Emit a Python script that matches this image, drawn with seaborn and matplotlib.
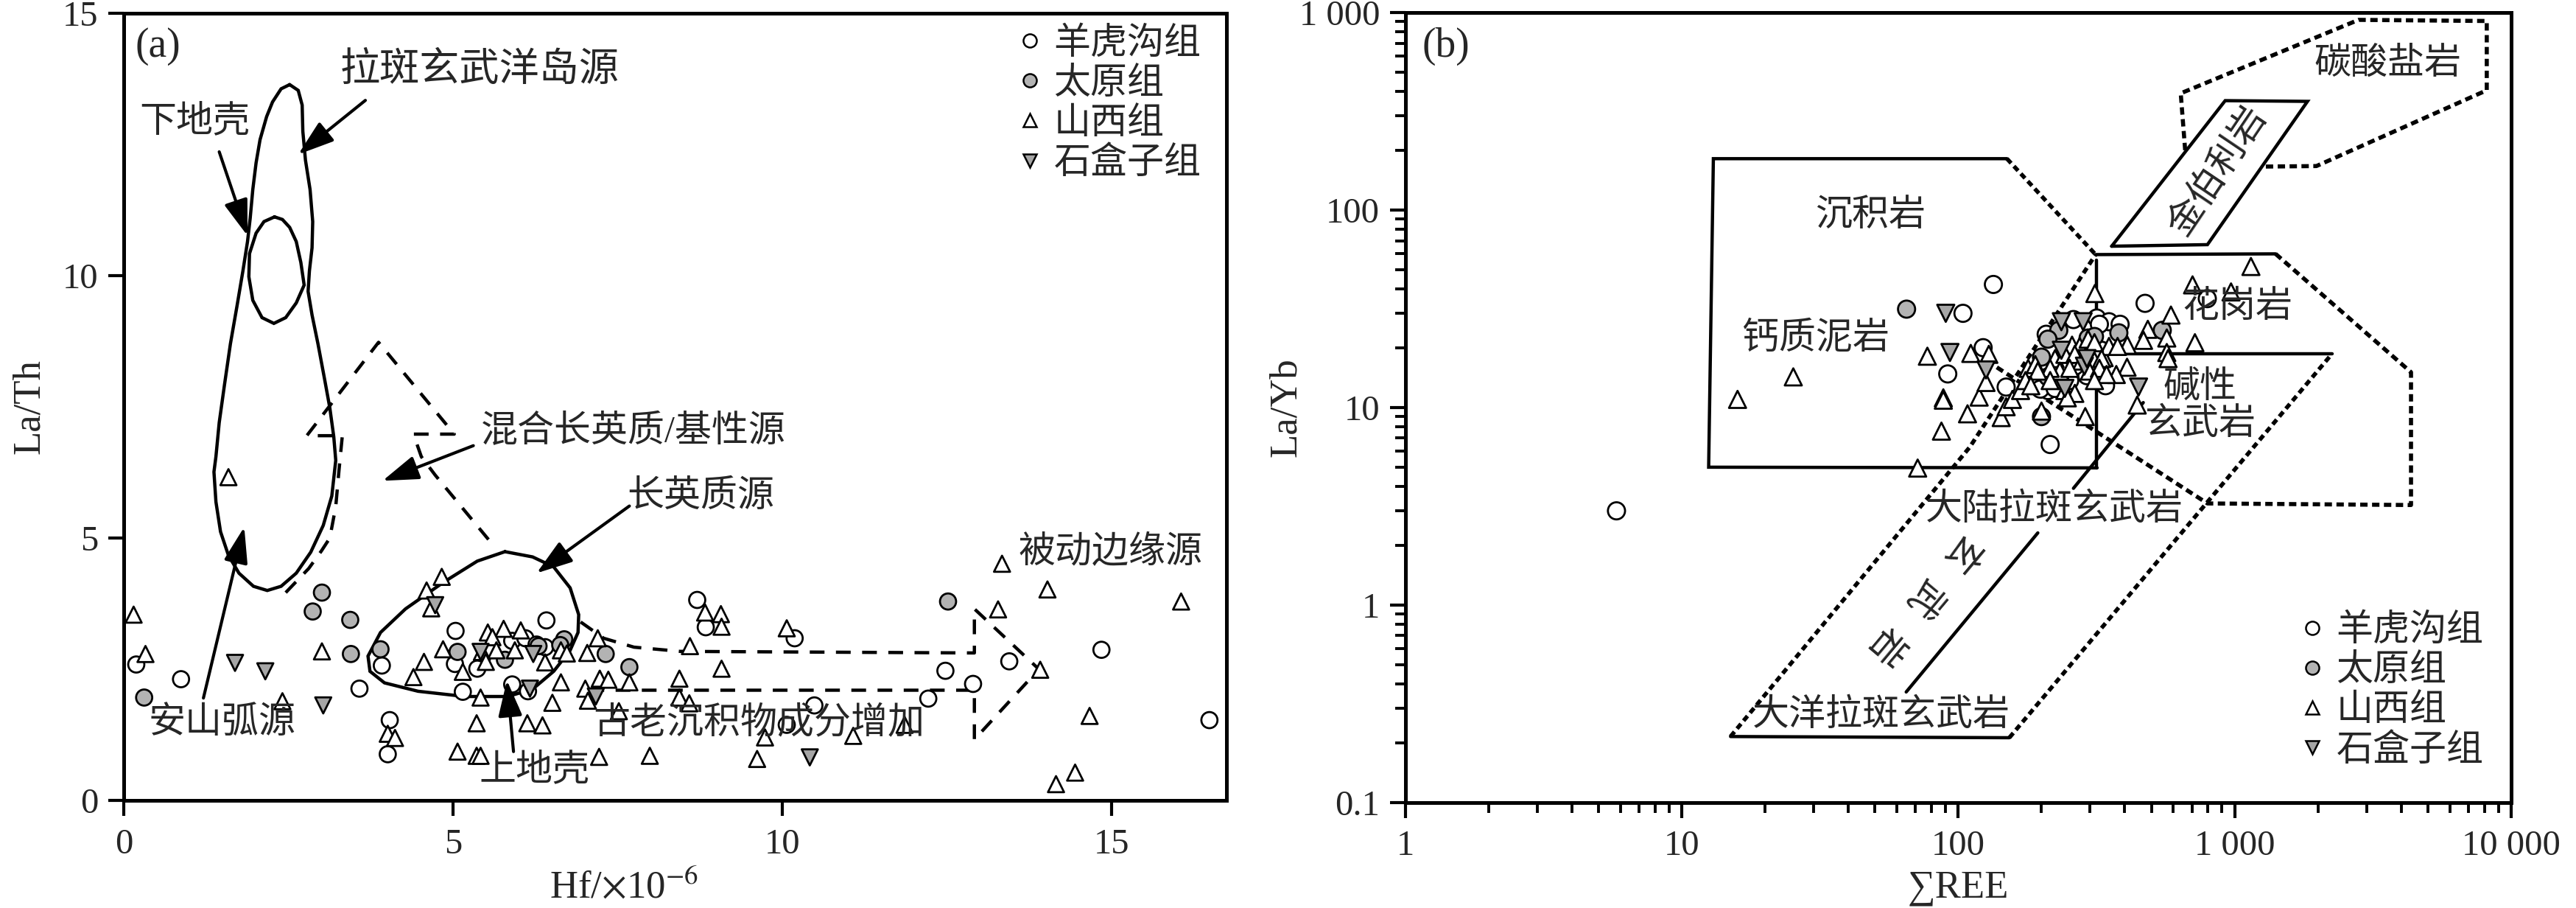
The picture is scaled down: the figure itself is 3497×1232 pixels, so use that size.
import pandas as pd
import seaborn as sns
import matplotlib
matplotlib.use('Agg')
import matplotlib.pyplot as plt
from matplotlib.lines import Line2D
from matplotlib.ticker import FixedLocator, FixedFormatter, NullFormatter, LogLocator

sns.set_style('ticks')
plt.rcParams['font.family'] = ['Liberation Serif', 'Noto Sans CJK SC', 'DejaVu Sans']
plt.rcParams['mathtext.fontset'] = 'stix'
plt.rcParams['axes.unicode_minus'] = False

groups = ['羊虎沟组', '太原组', '山西组', '石盒子组']
markers = {'羊虎沟组': 'o', '太原组': 'o', '山西组': '^', '石盒子组': 'v'}
fills = {'羊虎沟组': 'white', '太原组': '#b3b3b3', '山西组': 'white', '石盒子组': '#a6a6a6'}

# ---------------- (a) La/Th - Hf data
a_yhg_x = [0.19, 0.87, 3.92, 3.58, 4.04, 4.01, 5.04, 5.03, 5.15, 5.37, 5.90, 6.10, 6.27, 6.40,
           6.42, 5.90, 6.14, 8.71, 8.84, 10.19, 12.48, 12.22, 12.90, 13.45, 14.85, 16.49, 10.49, 10.07]
a_yhg_y = [2.59, 2.31, 2.57, 2.13, 1.53, 0.88, 3.23, 2.60, 2.07, 2.51, 3.04, 3.09, 2.97, 2.92,
           3.43, 2.21, 2.08, 3.82, 3.30, 3.09, 2.47, 1.94, 2.22, 2.65, 2.87, 1.53, 1.81, 1.44]
a_ty_x = [0.31, 3.01, 2.87, 3.44, 3.45, 3.90, 5.07, 5.79, 6.30, 6.69, 6.63, 7.32, 7.68, 12.52]
a_ty_y = [1.96, 3.96, 3.60, 3.44, 2.79, 2.88, 2.83, 2.68, 2.94, 3.07, 2.96, 2.79, 2.54, 3.79]
a_sx_x = [1.59, 0.15, 0.33, 3.01, 2.41, 4.83, 4.60, 4.67, 4.85, 4.56, 4.40, 5.53, 5.77, 5.60,
          6.03, 5.44, 5.66, 5.94, 6.40, 6.64, 6.73, 5.15, 5.50, 5.42, 5.87, 5.36, 6.13, 6.36,
          6.51, 6.64, 7.04, 7.20, 7.23, 7.36, 7.68, 7.01, 7.05, 7.52, 4.01, 4.12, 5.07, 5.36,
          5.42, 7.22, 7.99, 5.87, 13.34, 14.03, 16.06, 13.28, 13.92, 14.67, 14.16, 14.45, 8.83,
          9.07, 9.08, 8.60, 9.08, 8.44, 8.44, 8.59, 10.07, 9.74, 9.62, 11.08, 11.86]
a_sx_y = [6.16, 3.54, 2.79, 2.84, 1.89, 4.26, 4.00, 3.66, 2.88, 2.64, 2.35, 3.20, 3.27, 3.11,
          3.24, 2.83, 2.86, 2.86, 2.63, 2.86, 2.80, 2.45, 2.64, 1.96, 1.90, 1.47, 1.47, 1.43,
          1.86, 2.25, 2.81, 3.09, 2.32, 2.30, 2.25, 2.13, 1.90, 1.70, 1.27, 1.19, 0.93, 0.85,
          0.85, 0.83, 0.85, 1.87, 4.51, 4.02, 3.79, 3.64, 2.49, 1.61, 0.31, 0.53, 3.58,
          3.55, 3.31, 2.94, 2.51, 2.32, 1.96, 1.85, 3.28, 1.20, 0.79, 1.23, 1.44]
a_shz_x = [1.69, 2.15, 3.03, 4.73, 5.42, 6.22, 6.17, 7.17, 10.42]
a_shz_y = [2.62, 2.46, 1.81, 3.72, 2.83, 2.79, 2.13, 1.98, 0.82]

# field outlines in (a), data coordinates
arc_field = [(2.52, 13.64), (2.39, 13.56), (2.26, 13.31), (2.17, 13.03), (2.07, 12.59), (2.01, 12.15),
             (1.96, 11.64), (1.92, 11.09), (1.88, 10.65), (1.81, 10.09), (1.72, 9.42), (1.62, 8.70),
             (1.53, 7.92), (1.45, 7.20), (1.40, 6.55), (1.37, 6.26), (1.40, 5.69), (1.47, 5.12),
             (1.59, 4.67), (1.75, 4.33), (1.97, 4.08), (2.18, 4.00), (2.39, 4.08), (2.62, 4.33),
             (2.84, 4.73), (3.03, 5.24), (3.16, 5.80), (3.22, 6.48), (3.19, 6.93), (3.13, 7.48),
             (3.05, 8.03), (2.95, 8.70), (2.86, 9.25), (2.80, 9.70), (2.82, 10.09), (2.86, 10.53),
             (2.87, 11.03), (2.83, 11.64), (2.76, 12.20), (2.72, 12.75), (2.71, 13.25), (2.65, 13.53),
             (2.52, 13.64)]
oit_loop = [(2.29, 11.12), (2.13, 11.03), (2.01, 10.81), (1.91, 10.42), (1.90, 9.98), (1.96, 9.53),
            (2.10, 9.20), (2.28, 9.09), (2.46, 9.20), (2.62, 9.48), (2.74, 9.82), (2.69, 10.25),
            (2.62, 10.65), (2.52, 10.92), (2.41, 11.07), (2.29, 11.12)]
felsic_field = [(5.79, 4.74), (6.21, 4.64), (6.53, 4.45), (6.78, 4.05), (6.91, 3.54), (6.90, 3.20),
                (6.78, 2.86), (6.53, 2.46), (6.21, 2.12), (5.83, 1.98), (5.18, 1.98), (4.47, 2.08),
                (3.96, 2.24), (3.74, 2.46), (3.71, 2.75), (3.90, 3.20), (4.28, 3.65), (4.86, 4.16),
                (5.37, 4.56), (5.79, 4.74)]
mixed_field = [(2.46, 3.96), (2.81, 4.42), (3.00, 4.75), (3.13, 5.00), (3.22, 5.60), (3.27, 6.30),
               (3.32, 6.95), (2.78, 6.95), (3.87, 8.73), (5.02, 6.98), (4.40, 6.98), (4.52, 6.55),
               (4.73, 6.20), (5.62, 4.85)]
old_sed_arrow = [(6.94, 3.40), (7.29, 3.09), (7.75, 2.92), (8.45, 2.84), (12.92, 2.81), (12.92, 3.65),
                 (13.90, 2.50), (12.92, 1.16), (12.92, 2.10), (7.23, 2.10)]

# ---------------- (b) La/Yb - REE data
b_yhg_x = [5.8, 134, 104, 123, 91.6, 149, 474, 261, 317, 351, 385, 324, 208, 341, 215, 211, 198,
           224, 292, 264, 243, 253, 233, 304, 796, 330]
b_yhg_y = [3.0, 42, 30, 20.1, 14.8, 12.7, 33.7, 27.9, 28.4, 27.2, 26.4, 26.4, 23.5, 12.9, 6.5, 12.2,
           12.4, 12.5, 14.5, 16.2, 15.3, 13.7, 13.7, 22.5, 35.6, 19.5]
b_ty_x = [65, 231, 211, 200, 211, 200, 381, 547, 295, 311, 286]
b_ty_y = [31.5, 24.6, 22.2, 18.0, 14.3, 9.0, 23.9, 24.6, 22.5, 22.9, 17.7]
b_sx_x = [15.9, 25.3, 71.3, 86.9, 77.3, 111, 129, 119, 126, 88.3, 88.3, 108, 143, 149, 157, 168,
          179, 190, 312, 704, 588, 485, 468, 568, 718, 568, 574, 408, 373, 444, 288, 258, 275,
          337, 351, 409, 377, 295, 311, 224, 243, 264, 280, 311, 330, 298, 324, 344, 233, 253,
          215, 194, 175, 183, 243, 264, 248, 215, 311, 1145, 970, 200]
b_sx_y = [11.0, 14.3, 4.94, 7.6, 18.2, 18.8, 18.6, 11.3, 13.4, 11.2, 10.9, 9.3, 8.9, 10.1, 11.0,
          12.2, 15.8, 16.5, 37.8, 41.8, 29.4, 24.9, 21.9, 22.5, 21.3, 19.0, 17.7, 16.0, 14.7, 10.3,
          9.0, 20.7, 20.4, 17.9, 20.4, 20.7, 20.4, 22.2, 21.3, 17.7, 18.6, 18.6, 17.2, 17.2, 17.7,
          15.3, 15.8, 14.7, 15.3, 15.8, 15.8, 15.3, 13.7, 12.9, 12.2, 11.8, 11.2, 13.7, 13.7,
          51.8, 38.5, 9.6]
b_shz_x = [90.1, 93.3, 126, 236, 283, 236, 286, 243, 449, 292]
b_shz_y = [30.0, 19.0, 15.5, 27.2, 27.2, 19.5, 16.2, 12.5, 12.7, 17.7]

# field outlines in (b), data coordinates
sed_box = [(150, 182), (13.0, 182), (12.5, 4.99), (318, 4.95)]
sed_dash = [(150, 182), (314, 59.5)]
granite_top = [(314, 59.5), (1406, 60)]
granite_dash = [(1406, 60), (4345, 15.1), (4345, 3.21), (797, 3.27), (134, 16.4)]
split_line = [(316, 55.6), (316, 4.95)]
alkali_top = [(221, 18.7), (2249, 18.7)]
basalt_left = [(15, 0.216), (110, 6.3), (314, 59.5)]
basalt_right = [(153, 0.213), (2249, 18.7)]
basalt_bottom = [(15, 0.216), (153, 0.213)]
thol_lower = [(64.8, 0.363), (194, 2.32)]
thol_upper = [(261, 3.9), (467, 10.6)]
kimberlite = [(359, 65.6), (924, 358), (1834, 355), (797, 66.8), (359, 65.6)]
carbonate = [(662, 201), (638, 390), (2806, 918), (8166, 906), (8166, 404), (1976, 167), (1288, 166)]


def frame(gx, gy):
    parts = []
    for g, xs, ys in zip(groups, gx, gy):
        parts.append(pd.DataFrame({'x': xs, 'y': ys, '组': g}))
    return pd.concat(parts, ignore_index=True)


df_a = frame([a_yhg_x, a_ty_x, a_sx_x, a_shz_x], [a_yhg_y, a_ty_y, a_sx_y, a_shz_y])
df_b = frame([b_yhg_x, b_ty_x, b_sx_x, b_shz_x], [b_yhg_y, b_ty_y, b_sx_y, b_shz_y])

fig = plt.figure(figsize=(17.485, 6.16), dpi=200)
ax_a = fig.add_axes([0.04804, 0.1185, 0.4281, 0.8669])
ax_b = fig.add_axes([0.5456, 0.1161, 0.4292, 0.8701])

LW = 1.6
FS = 18
LONG_DASH = (4.5, 3.5)
SHORT_DASH = (1.5, 1.0)


def outline(ax, pts, dashed=None, lw=LW):
    xs = [p[0] for p in pts]
    ys = [p[1] for p in pts]
    line, = ax.plot(xs, ys, color='black', lw=lw, zorder=2, solid_joinstyle='miter')
    if dashed is not None:
        line.set_dashes(dashed)


def arrow(ax, tail, tip):
    ax.annotate('', xy=tip, xytext=tail,
                arrowprops=dict(arrowstyle='-|>,head_length=0.75,head_width=0.25',
                                color='black', lw=1.5, shrinkA=0, shrinkB=0, mutation_scale=20),
                zorder=4)


# ---------------- panel (a)
outline(ax_a, arc_field)
outline(ax_a, oit_loop)
outline(ax_a, felsic_field)
outline(ax_a, mixed_field, dashed=LONG_DASH)
outline(ax_a, old_sed_arrow, dashed=LONG_DASH)

sns.scatterplot(data=df_a, x='x', y='y', hue='组', style='组', hue_order=groups, style_order=groups,
                palette=fills, markers=markers, s=62, edgecolor='black', linewidth=1.0,
                legend=False, ax=ax_a, zorder=3)

ax_a.text(0.0105, 0.958, '(a)', transform=ax_a.transAxes, fontsize=20, va='center')
ax_a.text(3.29, 13.9, '拉斑玄武洋岛源', fontsize=19.5, va='center')
ax_a.text(0.24, 12.92, '下地壳', fontsize=FS, va='center')
ax_a.text(5.43, 7.02, '混合长英质/基性源', fontsize=FS, va='center')
ax_a.text(7.65, 5.78, '长英质源', fontsize=FS, va='center')
ax_a.text(13.59, 4.73, '被动边缘源', fontsize=FS, va='center')
ax_a.text(0.37, 1.47, '安山弧源', fontsize=FS, va='center')
ax_a.text(5.40, 0.57, '上地壳', fontsize=FS, va='center')
ax_a.text(7.13, 1.47, '古老沉积物成分增加', fontsize=FS, va='center')

arrow(ax_a, (3.67, 13.34), (2.65, 12.31))
arrow(ax_a, (1.45, 12.36), (1.88, 10.76))
arrow(ax_a, (5.31, 6.76), (3.93, 6.09))
arrow(ax_a, (7.68, 5.61), (6.27, 4.33))
arrow(ax_a, (1.21, 1.95), (1.83, 5.21))
arrow(ax_a, (5.92, 0.93), (5.82, 2.29))

ax_a.set_xlim(0, 16.75)
ax_a.set_ylim(0, 15)
ax_a.set_xticks([0, 5, 10, 15])
ax_a.set_yticks([0, 5, 10, 15])
ax_a.set_xlabel('Hf/$\\times$10$^{-6}$', fontsize=19, va='center')
ax_a.set_ylabel('La/Th', fontsize=19, va='center')
ax_a.xaxis.set_label_coords(0.4536, -0.111)
ax_a.yaxis.set_label_coords(-0.0855, 0.5)

# ---------------- panel (b)
DLW = 2.0
outline(ax_b, sed_box)
outline(ax_b, sed_dash, dashed=SHORT_DASH, lw=DLW)
outline(ax_b, granite_top)
outline(ax_b, granite_dash, dashed=(1.8, 1.1), lw=DLW)
outline(ax_b, split_line)
outline(ax_b, alkali_top)
outline(ax_b, basalt_left, dashed=SHORT_DASH, lw=DLW)
outline(ax_b, basalt_right, dashed=SHORT_DASH, lw=DLW)
outline(ax_b, basalt_bottom)
outline(ax_b, thol_lower)
outline(ax_b, thol_upper)
outline(ax_b, kimberlite)
outline(ax_b, carbonate, dashed=(1.8, 1.1), lw=DLW)

sns.scatterplot(data=df_b, x='x', y='y', hue='组', style='组', hue_order=groups, style_order=groups,
                palette=fills, markers=markers, s=70, edgecolor='black', linewidth=1.0,
                legend=False, ax=ax_b, zorder=3)

ax_b.set_xscale('log')
ax_b.set_yscale('log')
ax_b.set_xlim(1, 10000)
ax_b.set_ylim(0.1, 1000)

ax_b.text(0.0147, 0.957, '(b)', transform=ax_b.transAxes, fontsize=20, va='center')
ax_b.text(30.3, 92.4, '沉积岩', fontsize=FS, va='center')
ax_b.text(16.5, 22.2, '钙质泥岩', fontsize=FS, va='center')
ax_b.text(1938, 548, '碳酸盐岩', fontsize=FS, va='center')
ax_b.text(873, 156, '金伯利岩', fontsize=FS, rotation=56, ha='center', va='center',
          rotation_mode='anchor')
ax_b.text(647, 31.9, '花岗岩', fontsize=FS, va='center')
ax_b.text(750, 10.1, '碱性\n玄武岩', fontsize=FS, ha='center', va='center', linespacing=1.1)
ax_b.text(76, 3.0, '大陆拉斑玄武岩', fontsize=FS, va='center')
ax_b.text(18, 0.275, '大洋拉斑玄武岩', fontsize=FS, va='center')
for ch, (cx, cy) in zip('玄武岩', [(100, 1.84), (74, 1.09), (54, 0.629)]):
    ax_b.text(cx, cy, ch, fontsize=FS, rotation=230, ha='center', va='center',
              rotation_mode='anchor')

ax_b.xaxis.set_major_locator(FixedLocator([1, 10, 100, 1000, 10000]))
ax_b.xaxis.set_major_formatter(FixedFormatter(['1', '10', '100', '1 000', '10 000']))
ax_b.yaxis.set_major_locator(FixedLocator([0.1, 1, 10, 100, 1000]))
ax_b.yaxis.set_major_formatter(FixedFormatter(['0.1', '1', '10', '100', '1 000']))
for axis in (ax_b.xaxis, ax_b.yaxis):
    axis.set_minor_locator(LogLocator(base=10, subs=range(2, 10), numticks=20))
    axis.set_minor_formatter(NullFormatter())
ax_b.set_xlabel('∑REE', fontsize=19, va='center')
ax_b.set_ylabel('La/Yb', fontsize=19, va='center')
ax_b.xaxis.set_label_coords(0.4997, -0.108)
ax_b.yaxis.set_label_coords(-0.108, 0.5)

# ---------------- common styling
for ax in (ax_a, ax_b):
    for sp in ax.spines.values():
        sp.set_visible(True)
        sp.set_linewidth(1.8)
        sp.set_color('black')
    ax.tick_params(which='major', direction='out', length=7.5, width=1.5, labelsize=17.5,
                   top=False, right=False, color='black')
    ax.tick_params(which='minor', direction='out', length=5, width=1.4,
                   top=False, right=False, color='black')
    ax.tick_params(axis='x', which='major', pad=6)
    ax.tick_params(axis='y', which='major', pad=5)

handles = [Line2D([], [], ls='', marker=markers[g], mfc=fills[g], mec='black', mew=0.9, ms=6.5)
           for g in groups]
ax_a.legend(handles, groups, loc='upper right', bbox_to_anchor=(0.977, 0.982), frameon=False,
            fontsize=FS, handlelength=0.6, handletextpad=0.35, labelspacing=0.15,
            borderpad=0, borderaxespad=0)
ax_b.legend(handles, groups, loc='upper right', bbox_to_anchor=(0.975, 0.238), frameon=False,
            fontsize=FS, handlelength=0.6, handletextpad=0.35, labelspacing=0.15,
            borderpad=0, borderaxespad=0)

fig.savefig('out.png', dpi=200, facecolor='white')
